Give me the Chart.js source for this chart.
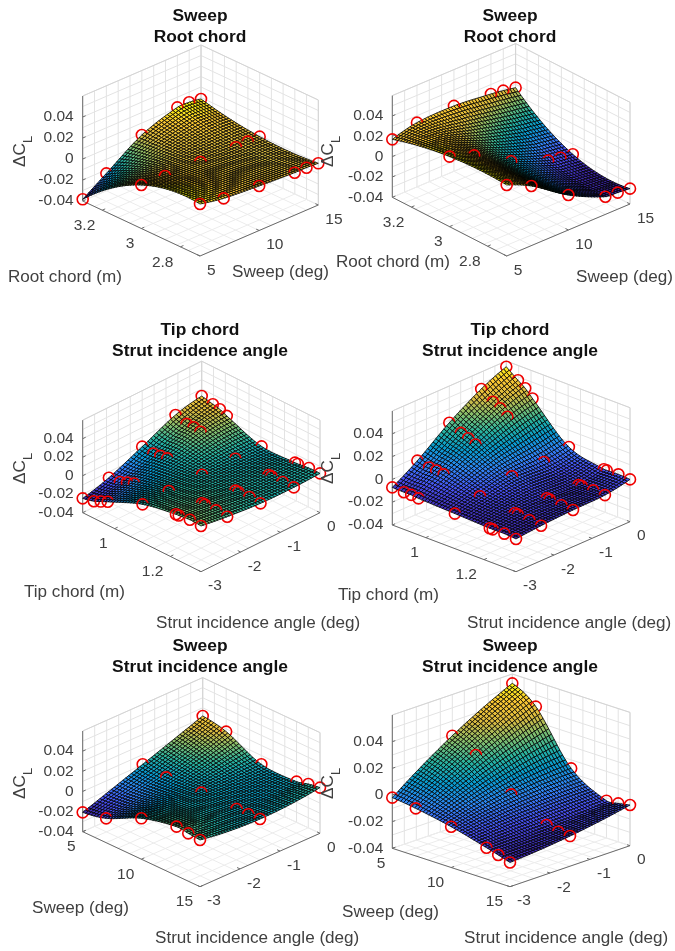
<!DOCTYPE html>
<html>
<head>
<meta charset="utf-8">
<title>Delta CL response surfaces</title>
<script src="https://cdn.jsdelivr.net/npm/chart.js@4"></script>
<style>
html, body { margin: 0; padding: 0; background: #fff; width: 675px; height: 951px; overflow: hidden; }
canvas { position: absolute; }
</style>
</head>
<body>
<script>
// design levels
var sweepLevels = [5, 7, 10, 13, 14, 15];
var rootChordLevels = [2.7, 3.0, 3.3];
var tipChordLevels = [0.885, 0.925, 0.95, 0.975, 1.10, 1.22, 1.23, 1.27, 1.31];
var strutFine = [-3, -2.34, -1.5, -0.66, 0];
var strutCoarse = [-3, -1.5, 0];

// delta CL at each marker, rows follow the y-style variable, columns the x-style one
var dclA = [
  [0.0095, 0.0052, 0.0024, 0.0005, 0.0004, -0.0003],
  [0.0014, 0.0003, -0.0010, -0.0015, -0.0010, -0.0011],
  [-0.0384, -0.0234, -0.0014, 0.0103, 0.0103, 0.0086]
];
var dclB = [
  [0.0298, 0.0186, -0.0056, -0.0226, -0.0237, -0.0249],
  [0.0289, 0.0199, -0.0013, -0.0160, -0.0182, -0.0200],
  [0.0170, 0.0232, 0.0243, 0.0207, 0.0189, 0.0167]
];
var dclC = [
  [-0.0245, -0.0162, -0.0005, 0.0159, 0.0223],
  [-0.0216, -0.0148, -0.0020, 0.0123, 0.0195],
  [-0.0182, -0.0117, -0.0007, 0.0124, 0.0178],
  [-0.0147, -0.0089, 0.0003, 0.0112, 0.0144],
  [0.0013, 0.0017, 0.0014, 0.0009, 0.0002],
  [0.0086, 0.0064, 0.0023, 0.0013, 0.0006],
  [0.0088, 0.0065, 0.0023, 0.0013, 0.0007],
  [0.0102, 0.0063, 0.0028, 0.0012, 0.0023],
  [0.0094, 0.0054, 0.0020, 0.0014, 0.0025]
];
var dclD = [
  [-0.0070, 0.0068, 0.0278, 0.0451, 0.0550],
  [-0.0074, 0.0046, 0.0227, 0.0377, 0.0470],
  [-0.0073, 0.0044, 0.0204, 0.0345, 0.0424],
  [-0.0080, 0.0034, 0.0174, 0.0294, 0.0358],
  [-0.0093, -0.0037, 0.0015, 0.0018, 0.0053],
  [-0.0106, -0.0071, -0.0062, -0.0068, -0.0027],
  [-0.0106, -0.0073, -0.0064, -0.0068, -0.0027],
  [-0.0105, -0.0084, -0.0075, -0.0067, -0.0023],
  [-0.0113, -0.0093, -0.0078, -0.0070, -0.0029]
];
var dclE = [
  [-0.0208, 0.0004, 0.0219],
  [-0.0158, -0.0016, 0.0173],
  [0.0006, -0.0004, 0.0012],
  [0.0087, -0.0003, 0.0004],
  [0.0075, -0.0001, 0.0035],
  [0.0064, 0.0007, 0.0054]
];
var dclF = [
  [-0.0020, 0.0291, 0.0530],
  [-0.0043, 0.0204, 0.0413],
  [-0.0094, -0.0005, 0.0036],
  [-0.0165, -0.0149, -0.0120],
  [-0.0191, -0.0170, -0.0111],
  [-0.0218, -0.0174, -0.0095]
];

// tick labels
var zTicks = [-0.04, -0.02, 0, 0.02, 0.04];
var zTickLabels = ['-0.04', '-0.02', '0', '0.02', '0.04'];
var sweepTicks = [5, 10, 15];
var rootChordTicks = [2.8, 3, 3.2];
var tipChordTicks = [1, 1.2];
var strutTicks = [-3, -2, -1, 0];

var zMin = -0.04, zMax = 0.06;
var cells = 42; // mesh cells per side when painting the surface

var parula = [[62,38,168],[72,82,244],[46,135,247],[7,156,207],[40,180,160],[130,190,110],[217,186,64],[252,200,50],[249,251,14]];

function colorFor(t) {
  var p = Math.max(0, Math.min(0.9999, t)) * (parula.length - 1);
  var i = Math.floor(p), k = p - i;
  var a = parula[i], b = parula[i + 1];
  return 'rgb(' + Math.round(a[0] + (b[0] - a[0]) * k) + ',' + Math.round(a[1] + (b[1] - a[1]) * k) + ',' + Math.round(a[2] + (b[2] - a[2]) * k) + ')';
}

// the read values stay the only data; this only smooths the painted facets between them
function smooth(xs, ys, x) {
  var n = xs.length, i = 0;
  while (i < n - 2 && x > xs[i + 1]) i++;
  function slope(j) {
    if (j > 0 && j < n - 1) return (ys[j + 1] - ys[j - 1]) / (xs[j + 1] - xs[j - 1]);
    var a = j === 0 ? 0 : n - 3, h0 = xs[a + 1] - xs[a], h1 = xs[a + 2] - xs[a + 1];
    var d0 = (ys[a + 1] - ys[a]) / h0, d1 = (ys[a + 2] - ys[a + 1]) / h1;
    return j === 0 ? ((2 * h0 + h1) * d0 - h0 * d1) / (h0 + h1) : ((2 * h1 + h0) * d1 - h1 * d0) / (h0 + h1);
  }
  var h = xs[i + 1] - xs[i], t = (x - xs[i]) / h;
  var t2 = t * t, t3 = t2 * t;
  return (2 * t3 - 3 * t2 + 1) * ys[i] + (t3 - 2 * t2 + t) * h * slope(i) + (-2 * t3 + 3 * t2) * ys[i + 1] + (t3 - t2) * h * slope(i + 1);
}

var panels = [
  { title: ['Sweep', 'Root chord'], xs: sweepLevels, ys: rootChordLevels, z: dclA,
    xRange: [5, 15], yRange: [2.7, 3.3], xTicks: sweepTicks, yTicks: rootChordTicks,
    F: [200, 256], L: [82.7, 201], R: [318.3, 205], H: 105,
    canvas: [0, 0, 400, 315], padTop: 5.5, padLeft: 0,
    xName: 'Sweep (deg)', xPos: [232, 272], yName: 'Root chord (m)', yPos: [8, 277], zPos: [20, 150] },
  { title: ['Sweep', 'Root chord'], xs: sweepLevels, ys: rootChordLevels, z: dclB,
    xRange: [5, 15], yRange: [2.7, 3.3], xTicks: sweepTicks, yTicks: rootChordTicks,
    F: [506.7, 256], L: [392.3, 197.3], R: [630, 204], H: 101.7,
    canvas: [320, 0, 355, 315], padTop: 5.5, padLeft: 25,
    xName: 'Sweep (deg)', xPos: [576, 277], yName: 'Root chord (m)', yPos: [336, 262], zPos: [328, 150] },
  { title: ['Tip chord', 'Strut incidence angle'], xs: strutFine, ys: tipChordLevels, z: dclC, colorTop: 0.03,
    xRange: [-3, 0], yRange: [1.31, 0.885], xTicks: strutTicks, yTicks: tipChordTicks,
    F: [201, 571.7], L: [82.7, 512.7], R: [320, 512.7], H: 92.5,
    canvas: [0, 315, 400, 330], padTop: 5.2, padLeft: 0,
    xName: 'Strut incidence angle (deg)', xPos: [156, 623], yName: 'Tip chord (m)', yPos: [24, 592], zPos: [20, 467] },
  { title: ['Tip chord', 'Strut incidence angle'], xs: strutFine, ys: tipChordLevels, z: dclD,
    xRange: [-3, 0], yRange: [1.31, 0.885], xTicks: strutTicks, yTicks: tipChordTicks,
    F: [516, 571.7], L: [392.3, 525], R: [630, 521.7], H: 114,
    canvas: [320, 315, 355, 330], padTop: 5.2, padLeft: 25,
    xName: 'Strut incidence angle (deg)', xPos: [467, 623], yName: 'Tip chord (m)', yPos: [338, 595], zPos: [328, 467] },
  { title: ['Sweep', 'Strut incidence angle'], xs: strutCoarse, ys: sweepLevels, z: dclE, colorTop: 0.028,
    xRange: [-3, 0], yRange: [15, 5], xTicks: strutTicks, yTicks: sweepTicks,
    F: [200, 886.7], L: [82.7, 831.7], R: [320, 833.3], H: 100.7,
    canvas: [0, 630, 400, 321], padTop: 6.2, padLeft: 0,
    xName: 'Strut incidence angle (deg)', xPos: [155, 938], yName: 'Sweep (deg)', yPos: [32, 908], zPos: [20, 782] },
  { title: ['Sweep', 'Strut incidence angle'], xs: strutCoarse, ys: sweepLevels, z: dclF,
    xRange: [-3, 0], yRange: [15, 5], xTicks: strutTicks, yTicks: sweepTicks,
    F: [510, 886.7], L: [392.3, 848.3], R: [630, 845.7], H: 133.3,
    canvas: [320, 630, 355, 321], padTop: 6.2, padLeft: 25,
    xName: 'Strut incidence angle (deg)', xPos: [464, 938], yName: 'Sweep (deg)', yPos: [342, 912], zPos: [328, 782] }
];

function project(p, u, v, z) {
  var w = (z - zMin) / (zMax - zMin);
  return {
    x: p.F[0] + u * (p.R[0] - p.F[0]) + v * (p.L[0] - p.F[0]),
    y: p.F[1] + u * (p.R[1] - p.F[1]) + v * (p.L[1] - p.F[1]) - w * p.H
  };
}
function fracX(p, val) { return (val - p.xRange[0]) / (p.xRange[1] - p.xRange[0]); }
function fracY(p, val) { return (val - p.yRange[0]) / (p.yRange[1] - p.yRange[0]); }

function buildFacets(p) {
  var lo = Infinity, hi = -Infinity;
  p.z.forEach(function (r) { r.forEach(function (d) { lo = Math.min(lo, d); hi = Math.max(hi, d); }); });
  if (p.colorTop) hi = p.colorTop;
  var colsAt = [];
  for (var i = 0; i <= cells; i++) {
    var xv = p.xRange[0] + (p.xRange[1] - p.xRange[0]) * i / cells;
    colsAt.push(p.z.map(function (r) { return smooth(p.xs, r, xv); }));
  }
  var out = [];
  var h = [];
  for (i = 0; i <= cells; i++) {
    h.push([]);
    for (var j = 0; j <= cells; j++) {
      var yv = p.yRange[0] + (p.yRange[1] - p.yRange[0]) * j / cells;
      h[i].push(smooth(p.ys, colsAt[i], yv));
    }
  }
  for (i = 0; i < cells; i++) {
    for (j = 0; j < cells; j++) {
      out.push({
        depth: (i + j + 1) / cells,
        color: colorFor((h[i][j] - lo) / (hi - lo)),
        pts: [project(p, i / cells, j / cells, h[i][j]), project(p, (i + 1) / cells, j / cells, h[i + 1][j]),
              project(p, (i + 1) / cells, (j + 1) / cells, h[i + 1][j + 1]), project(p, i / cells, (j + 1) / cells, h[i][j + 1])]
      });
    }
  }
  out.sort(function (a, b) { return b.depth - a.depth; });
  return out;
}

function buildMarkers(p) {
  var out = [];
  p.ys.forEach(function (yv, r) {
    p.xs.forEach(function (xv, c) {
      var u = fracX(p, xv), v = fracY(p, yv);
      var q = project(p, u, v, p.z[r][c]);
      out.push({ depth: u + v, x: q.x, y: q.y });
    });
  });
  out.sort(function (a, b) { return a.depth - b.depth; }); // dataset 0 is drawn last
  return out;
}

var surface3d = {
  id: 'surface3d',
  beforeDatasetsDraw: function (chart) {
    var st = chart.canvas.$panel;
    st.next = 0;
    drawBox(chart, st.p);
  },
  beforeDatasetDraw: function (chart, args) {
    var st = chart.canvas.$panel;
    drawFacets(chart, st, st.markers[args.index].depth);
  },
  afterDatasetsDraw: function (chart) {
    drawFacets(chart, chart.canvas.$panel, -1);
  }
};

function drawFacets(chart, st, depth) {
  var ctx = chart.ctx, sx = chart.scales.x, sy = chart.scales.y;
  ctx.save();
  ctx.lineWidth = 1;
  ctx.strokeStyle = 'rgba(0,0,0,0.78)';
  ctx.lineJoin = 'round';
  while (st.next < st.facets.length && st.facets[st.next].depth > depth) {
    var f = st.facets[st.next++];
    ctx.beginPath();
    f.pts.forEach(function (q, i) {
      var a = sx.getPixelForValue(q.x), b = sy.getPixelForValue(q.y);
      if (i === 0) ctx.moveTo(a, b); else ctx.lineTo(a, b);
    });
    ctx.closePath();
    ctx.fillStyle = f.color;
    ctx.fill();
    ctx.stroke();
  }
  ctx.restore();
}

function drawBox(chart, p) {
  var ctx = chart.ctx, sx = chart.scales.x, sy = chart.scales.y;
  function line(a, b, color, width) {
    ctx.strokeStyle = color;
    ctx.lineWidth = width;
    ctx.beginPath();
    ctx.moveTo(sx.getPixelForValue(a.x), sy.getPixelForValue(a.y));
    ctx.lineTo(sx.getPixelForValue(b.x), sy.getPixelForValue(b.y));
    ctx.stroke();
  }
  function text(str, q, align) {
    ctx.textAlign = align;
    ctx.fillText(str, sx.getPixelForValue(q.x), sy.getPixelForValue(q.y));
  }
  var grid = '#e3e3e3', edge = '#d4d4d4', axis = '#6a6a6a';
  ctx.save();
  for (var i = 0; i <= 10; i++) {
    var t = i / 10, zl = zMin + (zMax - zMin) * t;
    // floor
    line(project(p, t, 0, zMin), project(p, t, 1, zMin), '#ececec', 1);
    line(project(p, 0, t, zMin), project(p, 1, t, zMin), '#ececec', 1);
    // left wall, right wall
    line(project(p, t, 1, zMin), project(p, t, 1, zMax), grid, 1);
    line(project(p, 1, t, zMin), project(p, 1, t, zMax), grid, 1);
    line(project(p, 0, 1, zl), project(p, 1, 1, zl), grid, 1);
    line(project(p, 1, 0, zl), project(p, 1, 1, zl), grid, 1);
  }
  line(project(p, 0, 1, zMax), project(p, 1, 1, zMax), edge, 1);
  line(project(p, 1, 0, zMax), project(p, 1, 1, zMax), edge, 1);
  line(project(p, 1, 1, zMin), project(p, 1, 1, zMax), edge, 1);
  line(project(p, 1, 0, zMin), project(p, 1, 0, zMax), edge, 1);
  // axes
  line(project(p, 0, 1, zMin), project(p, 0, 1, zMax), axis, 1);
  line(project(p, 0, 0, zMin), project(p, 0, 1, zMin), axis, 1);
  line(project(p, 0, 0, zMin), project(p, 1, 0, zMin), axis, 1);

  ctx.fillStyle = '#404040';
  ctx.font = '15.5px "Liberation Sans"';
  ctx.textBaseline = 'middle';
  zTicks.forEach(function (zt, i) {
    var q = project(p, 0, 1, zt);
    line(q, project(p, 0.025, 1, zt), axis, 1);
    text(zTickLabels[i], { x: q.x - 9, y: q.y }, 'right');
  });
  p.xTicks.forEach(function (xt) {
    var u = fracX(p, xt), q = project(p, u, 0, zMin);
    line(q, project(p, u, 0.025, zMin), axis, 1);
    text(String(xt), { x: q.x + 7, y: q.y + 14.5 }, 'left');
  });
  p.yTicks.forEach(function (yt) {
    var v = fracY(p, yt), q = project(p, 0, v, zMin);
    line(q, project(p, 0.025, v, zMin), axis, 1);
    text(String(yt), { x: q.x - 7, y: q.y + 15.5 }, 'right');
  });

  ctx.font = '17.1px "Liberation Sans"';
  text(p.xName, { x: p.xPos[0], y: p.xPos[1] }, 'left');
  text(p.yName, { x: p.yPos[0], y: p.yPos[1] }, 'left');

  // rotated z label with its subscript
  ctx.translate(sx.getPixelForValue(p.zPos[0]), sy.getPixelForValue(p.zPos[1]));
  ctx.rotate(-Math.PI / 2);
  ctx.textAlign = 'left';
  ctx.fillText('\u0394C', -17, 0);
  ctx.font = '13px "Liberation Sans"';
  ctx.fillText('L', 7, 8);
  ctx.restore();
}

panels.forEach(function (p) {
  var box = p.canvas;
  var cv = document.createElement('canvas');
  cv.width = box[2];
  cv.height = box[3];
  cv.style.left = box[0] + 'px';
  cv.style.top = box[1] + 'px';
  document.body.appendChild(cv);

  var markers = buildMarkers(p);
  var titleSize = 17.4, titleLine = 1.2;
  var titleH = p.padTop + 2 * titleSize * titleLine;
  cv.$panel = { p: p, markers: markers, facets: buildFacets(p), next: 0 };

  new Chart(cv.getContext('2d'), {
    type: 'scatter',
    data: {
      datasets: markers.map(function (m) {
        return {
          data: [{ x: m.x, y: m.y }],
          pointRadius: 5.5,
          pointBorderWidth: 1.6,
          pointBorderColor: '#f00000',
          pointBackgroundColor: 'rgba(0,0,0,0)',
          clip: false
        };
      })
    },
    options: {
      responsive: false,
      animation: false,
      events: [],
      layout: { autoPadding: false, padding: { left: p.padLeft, right: 0, top: 0, bottom: 0 } },
      scales: {
        x: { type: 'linear', display: false, min: box[0] + p.padLeft, max: box[0] + box[2] },
        y: { type: 'linear', display: false, reverse: true, min: box[1] + titleH, max: box[1] + box[3] }
      },
      plugins: {
        legend: { display: false },
        tooltip: { enabled: false },
        title: {
          display: true,
          text: p.title,
          color: '#111111',
          font: { family: '"Liberation Sans"', size: titleSize, weight: 'bold', lineHeight: titleLine },
          padding: { top: p.padTop, bottom: 0 }
        }
      }
    },
    plugins: [surface3d]
  });
});
</script>
</body>
</html>
